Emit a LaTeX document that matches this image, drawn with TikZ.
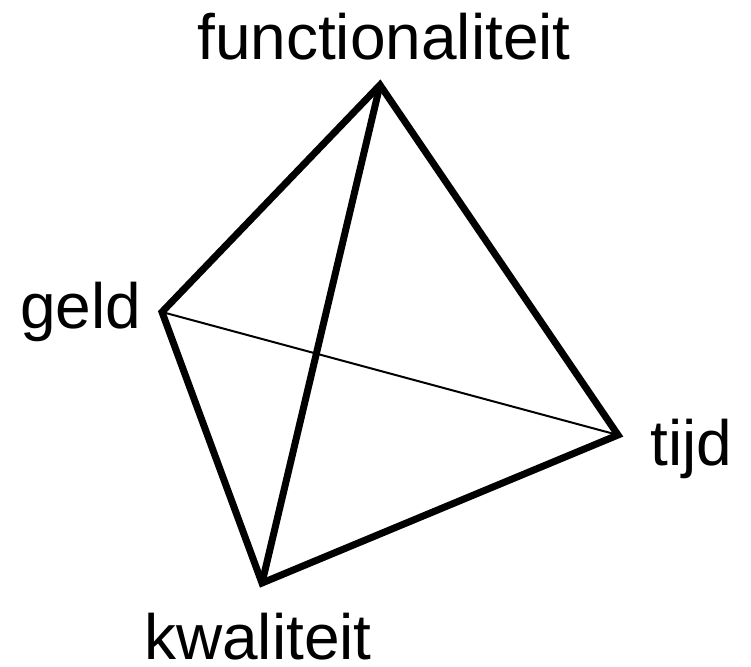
\documentclass[tikz,border=0pt]{standalone}
\usepackage{fontspec}
\setmainfont{Liberation Sans}
\begin{document}
\begin{tikzpicture}[x=1pt,y=-1pt,
  edge/.style={line width=7pt,line join=miter},
  thinedge/.style={line width=2pt},
  lbl/.style={inner sep=0pt,font=\fontsize{64}{70}\selectfont}]
\useasboundingbox (0,0) rectangle (751,666);
\coordinate (F) at (380,85);
\coordinate (G) at (162,312);
\coordinate (T) at (618,435);
\coordinate (K) at (262,583);
\draw[thinedge] (G) -- (T);
\draw[edge] (F) -- (G) -- (K) -- (T) -- cycle;
\draw[edge] (F) -- (K);
\node[lbl,anchor=base] (lf) at (384,60) {functionaliteit};
\node[lbl,anchor=base west] (lg) at (20,328) {geld};
\node[lbl,anchor=base west] (lt) at (650,465) {tijd};
\node[lbl,anchor=base,text depth=0pt] (lk) at (258,659) {kwaliteit};
\end{tikzpicture}
\end{document}
